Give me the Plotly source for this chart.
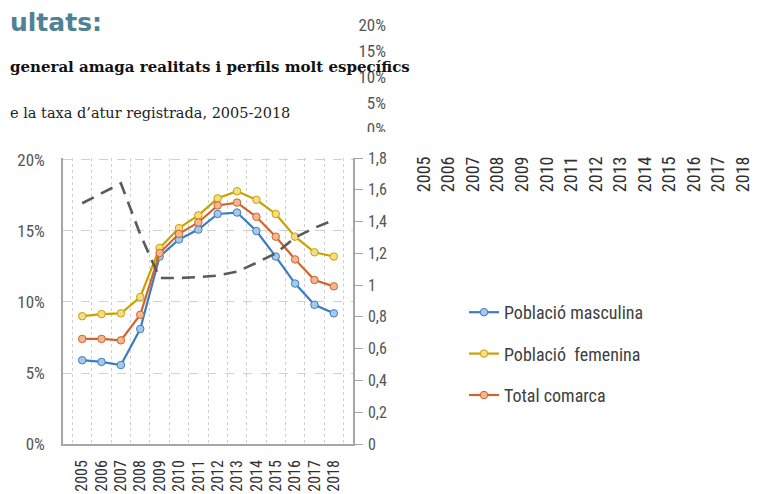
import plotly.graph_objects as go

W, H = 766, 494
OFF = 8  # default page body margin in the browser

years = [str(y) for y in range(2005, 2019)]
masculina = [5.9, 5.78, 5.56, 8.1, 13.2, 14.4, 15.1, 16.2, 16.3, 15.0, 13.2, 11.3, 9.8, 9.2]
femenina = [9.0, 9.15, 9.2, 10.35, 13.8, 15.2, 16.1, 17.3, 17.8, 17.2, 16.2, 14.6, 13.5, 13.2]
total = [7.4, 7.4, 7.3, 9.1, 13.45, 14.8, 15.6, 16.8, 17.0, 16.0, 14.6, 13.0, 11.55, 11.1]
ratio = [1.515, 1.58, 1.64, 1.32, 1.045, 1.045, 1.05, 1.06, 1.085, 1.14, 1.20, 1.30, 1.36, 1.41]

pct_ticks = [0, 5, 10, 15, 20]
pct_labels = ["0%", "5%", "10%", "15%", "20%"]
ratio_ticks = [0, 0.2, 0.4, 0.6, 0.8, 1.0, 1.2, 1.4, 1.6, 1.8]

title_text = "ultats:"
subtitle_text = "general amaga realitats i perfils molt específics"
caption_text = "e la taxa d’atur registrada, 2005-2018"

COND = "Liberation Sans Narrow, Roboto Condensed, DejaVu Sans Condensed, Arial Narrow, Roboto, sans-serif"


def px(x):
    return (x - OFF) / W


def py(y):
    return 1 - (y - OFF) / H


fig = go.Figure()

series = [
    ("Població masculina", masculina, "#3b7dc3", "#a8c8ea"),
    ("Població  femenina", femenina, "#c9a200", "#f6dc86"),
    ("Total comarca", total, "#d2632a", "#f4b690"),
]

fig.add_trace(go.Scatter(
    x=years, y=ratio, yaxis="y2", mode="lines",
    line=dict(color="#5a5a5a", width=2.6, dash="13px,8px"),
    showlegend=False, hoverinfo="skip",
))

for i, (name, vals, col, fill) in enumerate(series):
    fig.add_trace(go.Scatter(
        x=years, y=vals, name=name, mode="lines+markers",
        line=dict(color=col, width=2.2),
        marker=dict(size=7.5, color=fill, line=dict(color=col, width=1)),
        legendgroup=f"g{i}",
    ))

# invisible traces to carry the stray axes
fig.add_trace(go.Scatter(x=years, y=[None] * len(years), xaxis="x3", yaxis="y3",
                         showlegend=False, hoverinfo="skip"))
fig.add_trace(go.Scatter(x=[0], y=[None], xaxis="x4", yaxis="y4",
                         showlegend=False, hoverinfo="skip"))

fig.update_layout(
    width=W, height=H,
    margin=dict(l=0, r=0, t=0, b=0, pad=0),
    paper_bgcolor="white", plot_bgcolor="white",
    separators=",.",
    font=dict(family=COND, color="#404040"),
    xaxis=dict(
        domain=[px(63), px(353)], type="category", tickson="boundaries",
        showgrid=True, gridcolor="#d0d0d0", griddash="dot", gridwidth=1,
        showline=True, linecolor="#a6a6a6", linewidth=1.5,
        ticks="", tickangle=-90, ticklabelstandoff=8,
        tickfont=dict(size=16, family=COND, color="#303030"),
        anchor="y", zeroline=False, automargin=False,
    ),
    yaxis=dict(
        domain=[py(444), py(158)], range=[0, 20.14], tickvals=pct_ticks, ticktext=pct_labels,
        showgrid=True, gridcolor="#d0d0d0", griddash="dash", gridwidth=1,
        showline=True, linecolor="#a6a6a6", linewidth=1.5,
        ticks="", ticklabelstandoff=13, tickfont=dict(size=17, family=COND, color="#555555"),
        zeroline=False, anchor="x", automargin=False,
    ),
    yaxis2=dict(
        overlaying="y", side="right", range=[0, 1.8], tickvals=ratio_ticks,
        showgrid=False, showline=True, linecolor="#a6a6a6", linewidth=1.5,
        ticks="outside", ticklen=8, tickcolor="#a6a6a6", ticklabelstandoff=2,
        tickfont=dict(size=16, family=COND, color="#555555"),
        zeroline=False, anchor="x", automargin=False,
    ),
    xaxis3=dict(
        domain=[px(402), px(765)], type="category", anchor="free", position=py(152),
        showgrid=False, showline=False, ticks="", tickangle=-90,
        tickfont=dict(size=18, family=COND, color="#303030"), zeroline=False,
        automargin=False,
    ),
    yaxis3=dict(domain=[py(152), py(151)], visible=False, anchor="x3", automargin=False),
    xaxis4=dict(domain=[px(386), px(387)], visible=False, anchor="y4", automargin=False),
    yaxis4=dict(
        domain=[py(129), py(25)], range=[0, 20], tickvals=pct_ticks, ticktext=pct_labels,
        anchor="free", position=px(386), side="left",
        showgrid=False, showline=False, ticks="", zeroline=False,
        tickfont=dict(size=17, family=COND, color="#555555"), automargin=False,
    ),
    legend=dict(
        x=px(464), y=py(294), xanchor="left", yanchor="top",
        font=dict(size=18, family=COND, color="#404040"),
        tracegroupgap=15, itemwidth=30, bgcolor="rgba(0,0,0,0)",
    ),
    showlegend=True,
    annotations=[
        dict(text=f"<b>{title_text}</b>", x=0, y=py(22), xref="paper", yref="paper",
             xanchor="left", yanchor="middle", showarrow=False,
             font=dict(size=25, family="DejaVu Sans, Verdana, sans-serif", color="#4e8294")),
        dict(text=f"<b>{subtitle_text}</b>", x=0, y=py(67), xref="paper", yref="paper",
             xanchor="left", yanchor="middle", showarrow=False,
             font=dict(size=15, family="DejaVu Serif, Georgia, serif", color="#111111")),
        dict(text=caption_text, x=0, y=py(113), xref="paper", yref="paper",
             xanchor="left", yanchor="middle", showarrow=False,
             font=dict(size=14.5, family="DejaVu Serif, Georgia, serif", color="#222222")),
    ],
    shapes=[
        dict(type="rect", xref="paper", yref="paper", x0=px(355), x1=px(400),
             y0=py(150), y1=py(132), fillcolor="white", line=dict(width=0), layer="above"),
    ],
)

fig.write_html("out.html")
